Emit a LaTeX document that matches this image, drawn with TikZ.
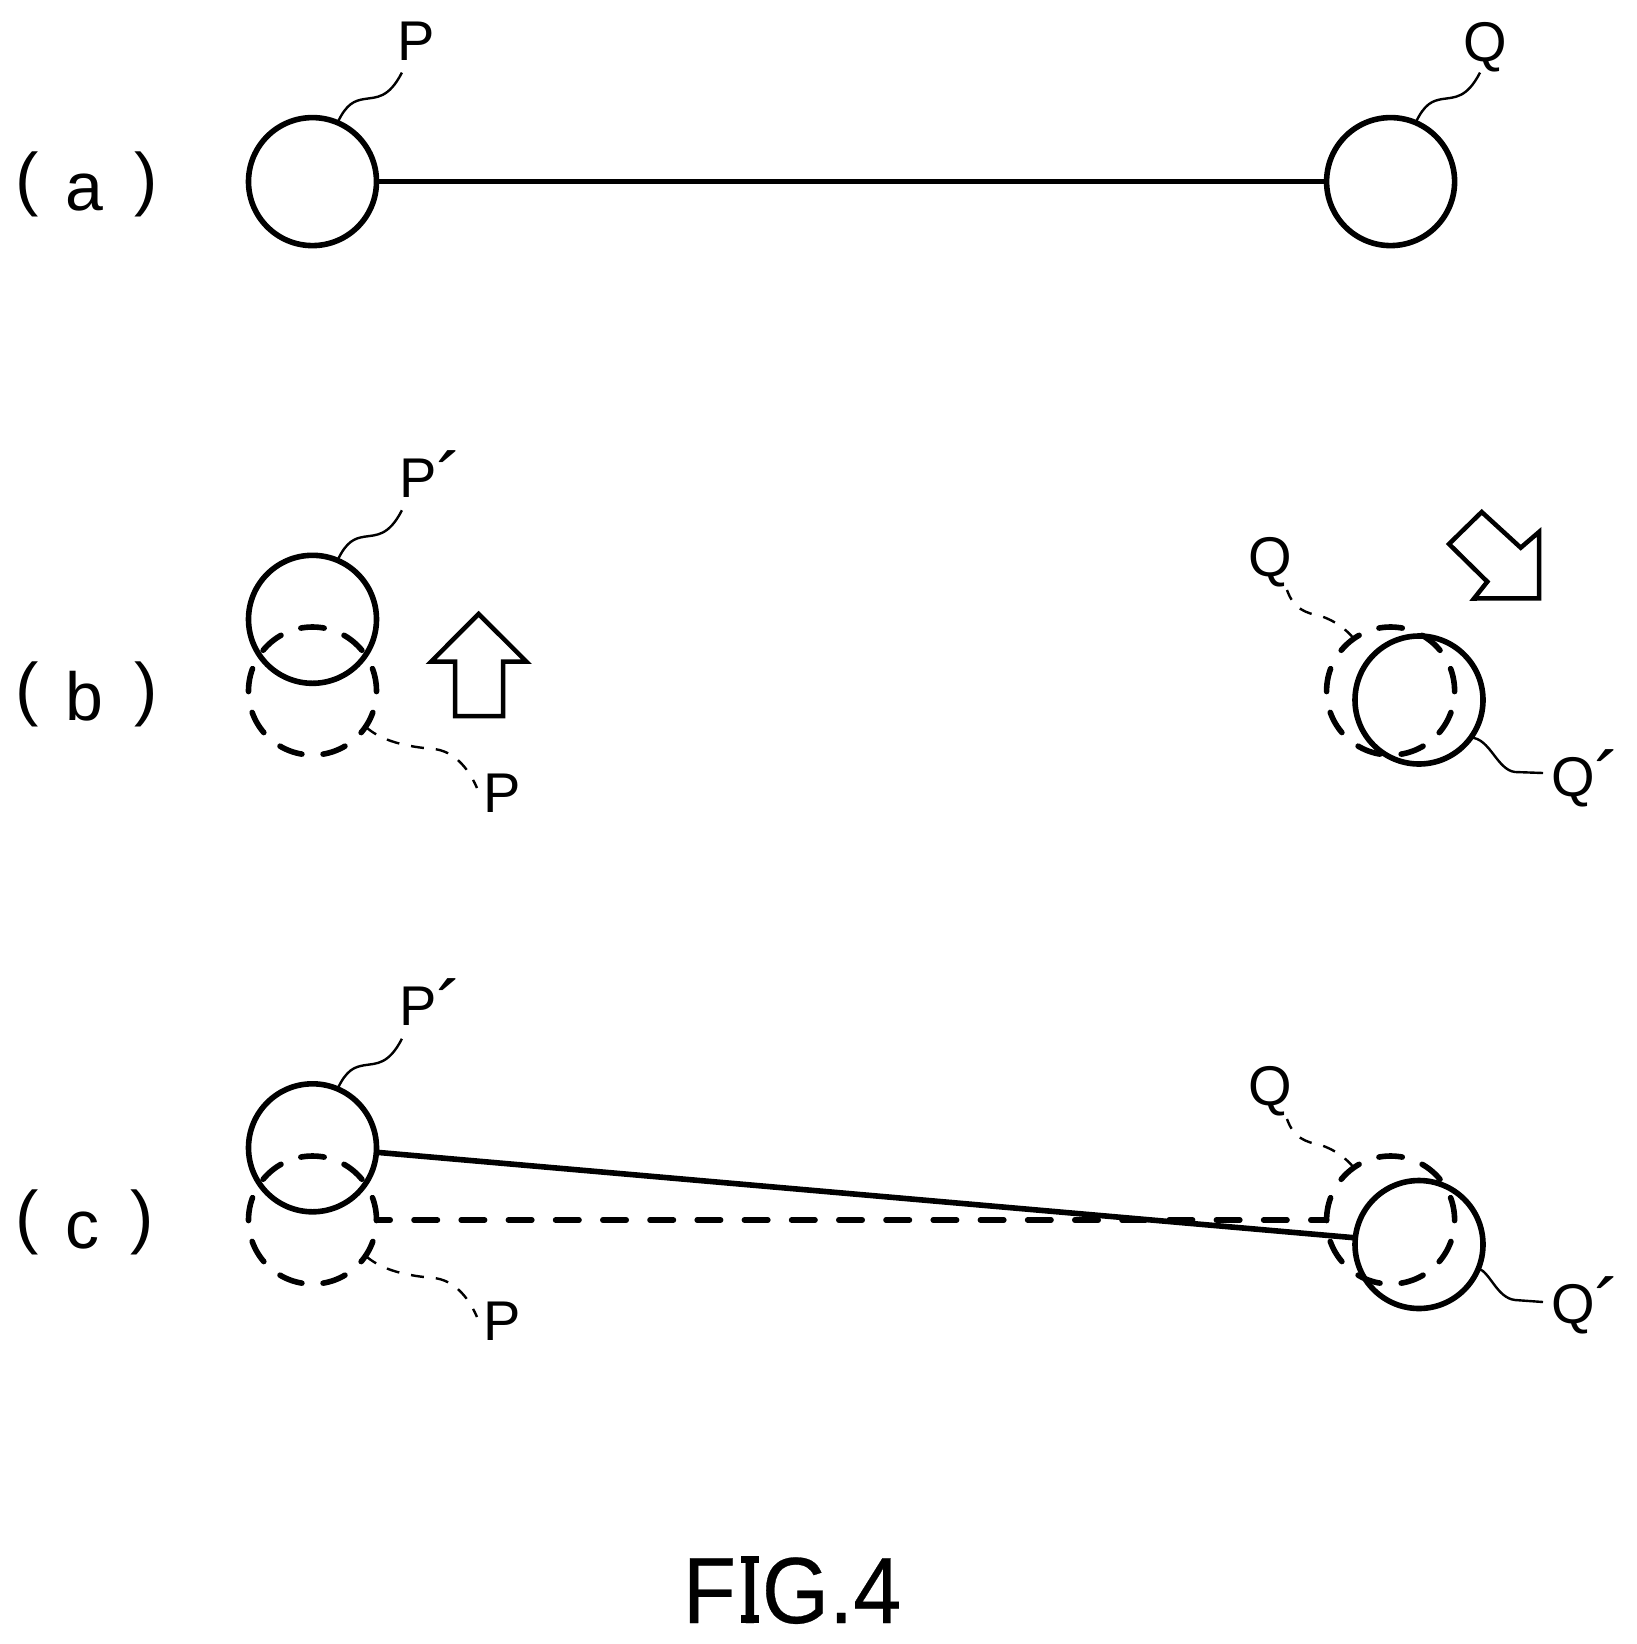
\documentclass[tikz,border=0pt]{standalone}
\usepackage{fontspec}
\setmainfont{Liberation Sans}
\newfontfamily\figfont[FakeStretch=0.92,FakeBold=0.3]{Liberation Sans}
\newcommand{\lblfont}{\fontsize{56}{60}\selectfont}
\newcommand{\prm}{\raisebox{-12pt}{\fontsize{80}{80}\selectfont ´}}
\newcommand{\partlbl}[1]{{\fontsize{70}{70}\selectfont\raisebox{8pt}{(}}\hspace{27pt}{\fontsize{68}{70}\selectfont #1}\hspace{31pt}{\fontsize{70}{70}\selectfont\raisebox{8pt}{)}}}
% leader from a solid circle up to its label; coordinates are relative to the circle centre
\newcommand{\upleader}[1]{\draw[leader,shift={(#1.center)}] (#1.67) .. controls (34,-78) and (42,-81) .. (52,-82.6) .. controls (64,-84.5) and (76,-83) .. (89.4,-109);}
\newcommand{\pleader}[1]{\draw[dleader,shift={(#1.center)}] (#1.-34) .. controls (66,47) and (85,55) .. (121.5,58) .. controls (140,60) and (155,75) .. (164.5,97);}
\newcommand{\qleader}[1]{\draw[dleader,shift={(#1.center)}] (#1.125) .. controls (-45,-62) and (-55,-70) .. (-70,-75) .. controls (-85,-78) and (-97,-82) .. (-103.6,-101);}
\tikzset{
  ball/.style={circle,draw=black,line width=5.6pt,minimum size=128pt,inner sep=0pt,outer sep=0pt},
  dball/.style={ball,line cap=round,dash pattern=on 23.4pt off 21.28pt,dash phase=0.53pt},
  rod/.style={line width=5.6pt},
  drod/.style={line width=5.6pt,line cap=round,dash pattern=on 23.4pt off 23.8pt,dash phase=9.7pt},
  leader/.style={line width=2.4pt},
  dleader/.style={line width=2.4pt,dash pattern=on 13pt off 12pt},
  lbl/.style={inner sep=0pt,outer sep=0pt,font=\lblfont},
  part/.style={inner sep=0pt,outer sep=0pt,anchor=base west},
  move/.style={line width=4.5pt,line join=miter}
}
\begin{document}
\begin{tikzpicture}[x=1pt,y=-1pt]
\path[use as bounding box,fill=white] (0,0) rectangle (1636,1644);

% (a)
\node[part] (la) at (15,210) {\partlbl{a}};
\node[ball] (Pa) at (312.5,181.6) {};
\node[ball] (Qa) at (1390.6,181.6) {};
\draw[rod] (Pa.east) -- (Qa.west);
\node[lbl,anchor=base] (tPa) at (416,60) {P};
\node[lbl,anchor=base] (tQa) at (1485,61) {Q};
\upleader{Pa}
\upleader{Qa}

% (b)
\node[part] (lb) at (15,720) {\partlbl{b}};
\node[dball] (Pdb) at (312.5,691) {};
\node[ball] (Pb) at (312.5,619.3) {};
\node[dball] (Qdb) at (1390.6,691) {};
\node[ball] (Qb) at (1419,700) {};
\node[lbl,anchor=base west] (tPb) at (399,497) {P\prm};
\node[lbl,anchor=base west] (tPdb) at (483,812) {P};
\node[lbl,anchor=base] (tQdb) at (1270,576) {Q};
\node[lbl,anchor=base west] (tQb) at (1551,796) {Q\prm};
\upleader{Pb}
\pleader{Pdb}
\qleader{Qdb}
\coordinate (eQb) at (1543,773);
\draw[leader] (Qb.-36) .. controls (1490,738) and (1497,770) .. (1515,772) -- (eQb);
\draw[move] (478.6,614) -- (526.5,661.7) -- (503,661.7) -- (503,716) -- (455,716) -- (455,661.7) -- (431,661.7) -- cycle;
\draw[move] (1481.7,512) -- (1520.7,547.7) -- (1539,532) -- (1539,598.3) -- (1474,598.5) -- (1487.3,581.7) -- (1449,544) -- cycle;

% (c)
\node[part] (lc) at (15,1248) {\partlbl{c}};
\node[dball] (Pdc) at (312.5,1220) {};
\node[ball] (Pc) at (312.5,1147.8) {};
\node[dball] (Qdc) at (1390.6,1220) {};
\node[ball] (Qc) at (1419,1244.5) {};
\draw[drod] (Pdc.east) -- (Qdc.west);
\draw[rod] (Pc.-4) -- (Qc.174);
\node[lbl,anchor=base west] (tPc) at (399,1025) {P\prm};
\node[lbl,anchor=base west] (tPdc) at (483,1340) {P};
\node[lbl,anchor=base] (tQdc) at (1270,1105) {Q};
\node[lbl,anchor=base west] (tQc) at (1551,1323) {Q\prm};
\upleader{Pc}
\pleader{Pdc}
\qleader{Qdc}
\coordinate (eQc) at (1543,1302);
\draw[leader] (Qc.-22) .. controls (1490,1272) and (1497,1298) .. (1515,1300) -- (eQc);

% caption
\node[inner sep=0pt,outer sep=0pt,anchor=base west] (cap) at (683,1623) {\figfont\fontsize{94}{100}\selectfont F\kern2pt IG.4};
\fill (741,1556) rectangle (759,1563);
\fill (741,1615) rectangle (759,1623);
\end{tikzpicture}
\end{document}
